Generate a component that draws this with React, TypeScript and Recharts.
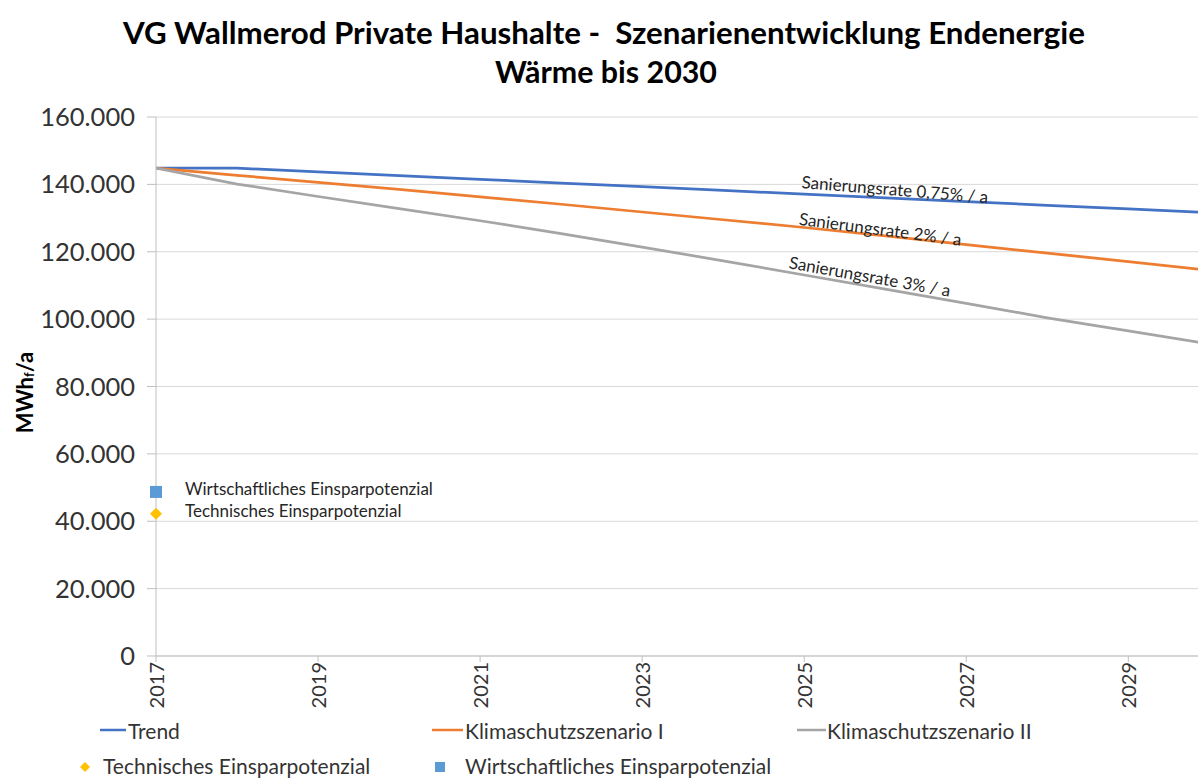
import React from "react";
import {
  ComposedChart,
  Line,
  Scatter,
  XAxis,
  YAxis,
  CartesianGrid,
  ReferenceDot,
  LabelList,
} from "recharts";

const years = [2017, 2018, 2019, 2020, 2021, 2022, 2023, 2024, 2025, 2026, 2027, 2028, 2029, 2030];
const trend = [144800, 144800, 143700, 142600, 141500, 140400, 139300, 138200, 137100, 136000, 134900, 133800, 132700, 131600];
const klima1 = [144800, 142700, 140600, 138500, 136300, 134100, 131800, 129500, 127200, 124700, 122100, 119600, 117100, 114500];
const klima2 = [144800, 140100, 136400, 132800, 129200, 125400, 121400, 117300, 113100, 108900, 104700, 100400, 96500, 92600];

const xTicks = [2017, 2019, 2021, 2023, 2025, 2027, 2029];
const yTicks = [0, 20000, 40000, 60000, 80000, 100000, 120000, 140000, 160000];

const wirtschaftlich = [{ year: 2017, value: 48700, name: "Wirtschaftliches Einsparpotenzial" }];
const technisch = [{ year: 2017, value: 42200, name: "Technisches Einsparpotenzial" }];

const annotations = [
  { text: "Sanierungsrate 0,75% / a", year: 2026.12, value: 138600, angle: 4.6 },
  { text: "Sanierungsrate 2% / a", year: 2025.94, value: 126800, angle: 7.4 },
  { text: "Sanierungsrate 3% / a", year: 2025.81, value: 112800, angle: 10 },
];

const BLUE = "#4472C4";
const ORANGE = "#ED7D31";
const GRAY = "#A5A5A5";
const YELLOW = "#FFC000";
const LIGHTBLUE = "#5B9BD5";
const FONT = "Lato, 'Open Sans', sans-serif";

const rows = years.map((year, i) => ({
  year,
  trend: trend[i],
  klima1: klima1[i],
  klima2: klima2[i],
}));

const X_DOMAIN: [number, number] = [2017, 2029.86];

const fmt = (v: number) => new Intl.NumberFormat("de-DE").format(v);

const XTick = ({ x, y, payload }: any) => (
  <text
    x={x}
    y={y}
    transform={`rotate(-90 ${x} ${y})`}
    textAnchor="end"
    dominantBaseline="central"
    fontSize={20}
    fontFamily={FONT}
    fill="#333"
  >
    {payload.value}
  </text>
);

const YLabel = ({ viewBox }: any) => {
  const cy = viewBox.y + viewBox.height / 2 + 6;
  return (
    <text
      x={24}
      y={cy}
      transform={`rotate(-90 24 ${cy})`}
      textAnchor="middle"
      dominantBaseline="central"
      fontSize={22}
      fontWeight="bold"
      fontFamily={FONT}
      fill="#000"
    >
      MWh
      <tspan fontSize={13} dy={5}>f</tspan>
      <tspan dy={-5}>/a</tspan>
    </text>
  );
};

const squareShape = ({ cx, cy }: any) => (
  <rect x={cx - 6} y={cy - 6} width={12} height={12} fill={LIGHTBLUE} />
);

const diamondShape = ({ cx, cy }: any) => (
  <path d={`M${cx} ${cy - 6} L${cx + 6} ${cy} L${cx} ${cy + 6} L${cx - 6} ${cy} Z`} fill={YELLOW} />
);

const pointLabel = (props: any) => {
  const { x, y, width, height, value } = props;
  return (
    <text
      x={x + width / 2 + 29}
      y={y + height / 2 - 3}
      dominantBaseline="central"
      fontSize={17}
      fontFamily={FONT}
      fill="#262626"
    >
      {value}
    </text>
  );
};

const slopedLabel = (text: string, angle: number) => (props: any) => {
  const { viewBox } = props;
  const cx = viewBox.x + viewBox.width / 2;
  const cy = viewBox.y + viewBox.height / 2;
  return (
    <text
      x={cx}
      y={cy}
      transform={`rotate(${angle} ${cx} ${cy})`}
      textAnchor="middle"
      dominantBaseline="central"
      fontSize={17}
      fontFamily={FONT}
      fill="#262626"
    >
      {text}
    </text>
  );
};

function Legend() {
  const row1 = { fontSize: 21, fontFamily: FONT, fill: "#333" } as const;
  const row2 = { fontSize: 21, fontFamily: FONT, fill: "#333" } as const;
  return (
    <g>
      <line x1={100} x2={126} y1={730} y2={730} stroke={BLUE} strokeWidth={2.5} />
      <text x={128} y={730} dominantBaseline="central" {...row1}>Trend</text>
      <line x1={432} x2={463} y1={730} y2={730} stroke={ORANGE} strokeWidth={2.5} />
      <text x={465} y={730} dominantBaseline="central" {...row1}>Klimaschutzszenario I</text>
      <line x1={797} x2={826} y1={730} y2={730} stroke={GRAY} strokeWidth={2.5} />
      <text x={827} y={730} dominantBaseline="central" {...row1}>Klimaschutzszenario II</text>

      <path d="M85 762 L90 767 L85 772 L80 767 Z" fill={YELLOW} />
      <text x={103} y={765} dominantBaseline="central" {...row2}>Technisches Einsparpotenzial</text>
      <rect x={435} y={762} width={10} height={10} fill={LIGHTBLUE} />
      <text x={465} y={765} dominantBaseline="central" {...row2}>Wirtschaftliches Einsparpotenzial</text>
    </g>
  );
}

export default function App() {
  return (
    <div style={{ position: "absolute", left: 0, top: 0, width: 1198, height: 780, overflow: "hidden", background: "#fff" }}>
      <ComposedChart
        width={1198}
        height={780}
        data={rows}
        margin={{ top: 117, right: 0, bottom: 0, left: 0 }}
      >
        <CartesianGrid horizontal vertical={false} stroke="#D9D9D9" />
        <XAxis
          dataKey="year"
          type="number"
          domain={X_DOMAIN}
          allowDataOverflow
          ticks={xTicks}
          tick={<XTick />}
          tickSize={6}
          tickMargin={0}
          height={124}
          stroke="#BFBFBF"
          interval={0}
        />
        <XAxis xAxisId="pts" dataKey="year" type="number" domain={X_DOMAIN} hide />
        <YAxis
          domain={[0, 160000]}
          ticks={yTicks}
          tickFormatter={fmt}
          width={156}
          tickSize={9}
          tickMargin={12}
          stroke="#BFBFBF"
          tick={{ fontSize: 25.5, fontFamily: FONT, fill: "#333" }}
          label={<YLabel />}
        />
        <Line type="linear" dataKey="trend" name="Trend" stroke={BLUE} strokeWidth={2.75} dot={false} isAnimationActive={false} />
        <Line type="linear" dataKey="klima1" name="Klimaschutzszenario I" stroke={ORANGE} strokeWidth={2.75} dot={false} isAnimationActive={false} />
        <Line type="linear" dataKey="klima2" name="Klimaschutzszenario II" stroke={GRAY} strokeWidth={2.75} dot={false} isAnimationActive={false} />
        <Scatter xAxisId="pts" data={technisch} dataKey="value" name="Technisches Einsparpotenzial" shape={diamondShape} isAnimationActive={false}>
          <LabelList dataKey="name" content={pointLabel} />
        </Scatter>
        <Scatter xAxisId="pts" data={wirtschaftlich} dataKey="value" name="Wirtschaftliches Einsparpotenzial" shape={squareShape} isAnimationActive={false}>
          <LabelList dataKey="name" content={pointLabel} />
        </Scatter>
        {annotations.map((a) => (
          <ReferenceDot
            key={a.text}
            x={a.year}
            y={a.value}
            r={1}
            fill="none"
            stroke="none"
            ifOverflow="visible"
            label={slopedLabel(a.text, a.angle)}
          />
        ))}
      </ComposedChart>
      <svg width={1198} height={780} style={{ position: "absolute", left: 0, top: 0, pointerEvents: "none" }}>
        <text x={604} y={32} textAnchor="middle" dominantBaseline="central" fontSize={30} fontWeight="bold" fontFamily={FONT} fill="#000" textLength={962} lengthAdjust="spacingAndGlyphs">
          {"VG Wallmerod Private Haushalte -\u00A0 Szenarienentwicklung Endenergie"}
        </text>
        <text x={606} y={71} textAnchor="middle" dominantBaseline="central" fontSize={30} fontWeight="bold" fontFamily={FONT} fill="#000" textLength={222} lengthAdjust="spacingAndGlyphs">
          Wärme bis 2030
        </text>
        <Legend />
      </svg>
    </div>
  );
}
